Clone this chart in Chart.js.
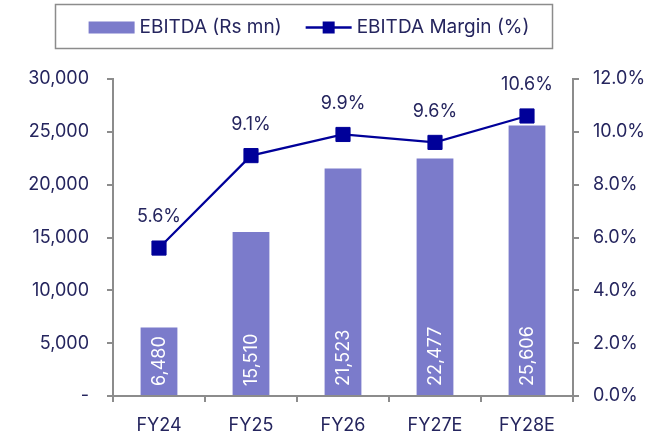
<!DOCTYPE html>
<html>
<head>
<meta charset="utf-8">
<script src="https://cdn.jsdelivr.net/npm/chart.js@4.4.1/dist/chart.umd.min.js"></script>
<style>
  html, body { margin: 0; padding: 0; background: #fff; }
  #wrap { width: 666px; height: 435px; position: relative; }
</style>
</head>
<body>
<div id="wrap"><canvas id="grafico"></canvas></div>
<script>
const categorias = ['FY24', 'FY25', 'FY26', 'FY27E', 'FY28E'];
const ebitda = [6480, 15510, 21523, 22477, 25606];
const margen = [5.6, 9.1, 9.9, 9.6, 10.6];
const serieBarras = 'EBITDA (Rs mn)';
const serieLinea = 'EBITDA Margin (%)';

const colorTexto = '#25255e';
const colorBarra = '#7b7bcb';
const colorLinea = '#000099';
const colorEje = '#8c8c8c';
const fuente = 'Inter, "DejaVu Sans", sans-serif';

// etiquetas de valores y leyenda con borde
const etiquetasPlugin = {
  id: 'etiquetas',
  afterDatasetsDraw(chart) {
    const ctx = chart.ctx;
    ctx.save();
    // valores dentro de las barras (rotados)
    chart.getDatasetMeta(0).data.forEach(function (bar, i) {
      ctx.save();
      ctx.translate(bar.x, bar.base - 9);
      ctx.rotate(-Math.PI / 2);
      ctx.font = '18px ' + fuente;
      ctx.fillStyle = '#ffffff';
      ctx.textAlign = 'left';
      ctx.textBaseline = 'middle';
      ctx.fillText(ebitda[i].toLocaleString('en-US'), 0, 1);
      ctx.restore();
    });
    // porcentajes sobre los puntos
    chart.getDatasetMeta(1).data.forEach(function (pt, i) {
      ctx.font = '18px ' + fuente;
      ctx.fillStyle = colorTexto;
      ctx.textAlign = 'center';
      ctx.textBaseline = 'middle';
      ctx.fillText(margen[i].toFixed(1) + '%', pt.x, pt.y - 31);
    });
    ctx.restore();
  },
  afterDraw(chart) {
    const ctx = chart.ctx;
    const box = { left: 55.5, top: 4.5, right: 552.5, bottom: 48.5 };
    ctx.save();
    ctx.strokeStyle = colorEje;
    ctx.lineWidth = 1.5;
    ctx.strokeRect(box.left, box.top, box.right - box.left, box.bottom - box.top);

    ctx.font = '19px ' + fuente;
    const sw = 46, gap = 5, sep = 24;
    const w1 = ctx.measureText(serieBarras).width;
    const w2 = ctx.measureText(serieLinea).width;
    const total = sw + gap + w1 + sep + sw + gap + w2;
    let x = (box.left + box.right) / 2 - total / 2 + 5;
    const cy = (box.top + box.bottom) / 2 + 1;

    ctx.fillStyle = colorBarra;
    ctx.fillRect(x, cy - 6, sw, 12);
    x += sw + gap;
    ctx.fillStyle = colorTexto;
    ctx.textAlign = 'left';
    ctx.textBaseline = 'middle';
    ctx.fillText(serieBarras, x, cy);
    x += w1 + sep;

    ctx.strokeStyle = colorLinea;
    ctx.lineWidth = 2.5;
    ctx.beginPath();
    ctx.moveTo(x, cy);
    ctx.lineTo(x + sw, cy);
    ctx.stroke();
    ctx.fillStyle = colorLinea;
    ctx.fillRect(x + sw / 2 - 6, cy - 6, 12, 12);
    x += sw + gap;
    ctx.fillStyle = colorTexto;
    ctx.fillText(serieLinea, x, cy);
    ctx.restore();
  }
};

const ctx = document.getElementById('grafico');
new Chart(ctx, {
  type: 'bar',
  data: {
    labels: categorias,
    datasets: [{
      type: 'bar',
      label: serieBarras,
      data: ebitda,
      backgroundColor: colorBarra,
      barPercentage: 0.4,
      categoryPercentage: 1,
      yAxisID: 'y',
      order: 2
    }, {
      type: 'line',
      label: serieLinea,
      data: margen,
      borderColor: colorLinea,
      backgroundColor: colorLinea,
      borderWidth: 2.2,
      pointStyle: 'rect',
      pointRadius: 10,
      pointHoverRadius: 10,
      pointBorderWidth: 1,
      tension: 0,
      yAxisID: 'y1',
      order: 1
    }]
  },
  options: {
    responsive: true,
    maintainAspectRatio: false,
    animation: false,
    layout: { padding: { top: 79, right: 0, left: 0, bottom: 0 } },
    plugins: {
      legend: { display: false },
      tooltip: { enabled: false }
    },
    scales: {
      x: {
        grid: { drawOnChartArea: false, color: colorEje, lineWidth: 2, tickLength: 6, offset: true },
        border: { color: colorEje, width: 2 },
        ticks: { color: colorTexto, font: { family: fuente, size: 18 }, padding: 13 },
        afterFit: function (s) { s.height = 39; }
      },
      y: {
        position: 'left',
        min: 0,
        max: 30000,
        grid: { drawOnChartArea: false, color: colorEje, lineWidth: 2, tickLength: 6 },
        border: { color: colorEje, width: 2 },
        ticks: {
          stepSize: 5000,
          color: colorTexto,
          font: { family: fuente, size: 18 },
          padding: 18,
          callback: function (v) { return v === 0 ? '-' : v.toLocaleString('en-US'); }
        },
        afterFit: function (s) { s.width = 113; }
      },
      y1: {
        position: 'right',
        min: 0,
        max: 12,
        grid: { drawOnChartArea: false, color: colorEje, lineWidth: 2, tickLength: 6 },
        border: { color: colorEje, width: 2 },
        ticks: {
          stepSize: 2,
          color: colorTexto,
          font: { family: fuente, size: 18 },
          padding: 14,
          callback: function (v) { return v.toFixed(1) + '%'; }
        },
        afterFit: function (s) { s.width = 93; }
      }
    }
  },
  plugins: [etiquetasPlugin]
});
</script>
</body>
</html>
